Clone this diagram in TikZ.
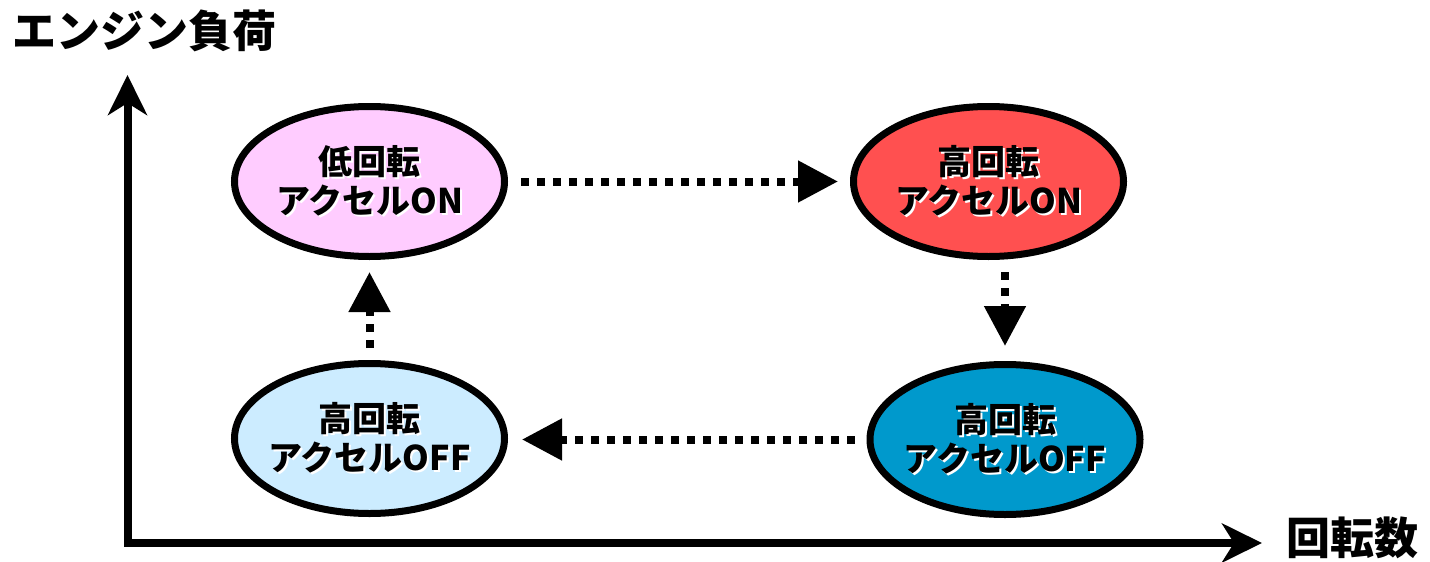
\documentclass[tikz,border=0pt]{standalone}
\usepackage{fontspec}
\newfontfamily\jp{Noto Sans CJK JP}
\usetikzlibrary{shapes.geometric,arrows.meta}
\definecolor{cpink}{HTML}{FFCCFF}
\definecolor{cred}{HTML}{FF5050}
\definecolor{clblue}{HTML}{CCECFF}
\definecolor{cblue}{HTML}{0099CC}
\newcommand\halo[1]{\makebox[0pt][l]{\raisebox{-2pt}{\hspace{2pt}\color{white}#1}}#1}
\tikzset{
  state/.style={ellipse, draw=black, line width=7pt, minimum width=270pt, minimum height=150pt,
    inner sep=0pt},
  statetext/.style={inner sep=0pt, align=center, font=\jp\bfseries\fontsize{34}{39}\selectfont},
  flow/.style={line width=8pt, dash pattern=on 8pt off 8pt, -{Triangle[length=40pt,width=40pt]}},
  axis/.style={line width=8pt, line join=miter, {Stealth[length=40pt,width=39pt,inset=12pt]}-{Stealth[length=40pt,width=39pt,inset=12pt]}},
  label/.style={anchor=west, inner sep=0pt, font=\jp\bfseries\fontsize{44}{44}\selectfont}
}
\begin{document}
\begin{tikzpicture}[x=1pt,y=-1pt]
\useasboundingbox (0,0) rectangle (1430,562);
\coordinate (ytop) at (127.5,75);
\coordinate (o) at (127.5,543);
\coordinate (xend) at (1262,543);
\draw[axis] (ytop) -- (o) -- (xend);
\node[label] (ylab) at (12,31) {エンジン負荷};
\node[label] (xlab) at (1286,538) {回転数};
\node[state, fill=cpink] (tl) at (369.5,181.5) {};
\node[state, fill=cred] (tr) at (988.5,181.5) {};
\node[state, fill=clblue] (bl) at (369.5,438.5) {};
\node[state, fill=cblue] (br) at (1005,439.5) {};
\node[statetext] (tlt) at (tl.center) {\halo{低回転}\\\halo{アクセルON}};
\node[statetext] (trt) at (tr.center) {\halo{高回転}\\\halo{アクセルON}};
\node[statetext] (blt) at (bl.center) {\halo{高回転}\\\halo{アクセルOFF}};
\node[statetext] (brt) at (br.center) {\halo{高回転}\\\halo{アクセルOFF}};
\draw[flow, shorten <=13pt, shorten >=12pt] (tl.east) -- (tr.west);
\draw[flow, shorten <=12pt, shorten >=15pt] (br.north |- tr.south) -- (br.north);
\draw[flow, shorten <=12pt, shorten >=14pt] (br.west) -- (br.west -| bl.east);
\draw[flow, shorten <=12pt, shorten >=12pt] (bl.north) -- (tl.south);
\end{tikzpicture}
\end{document}
